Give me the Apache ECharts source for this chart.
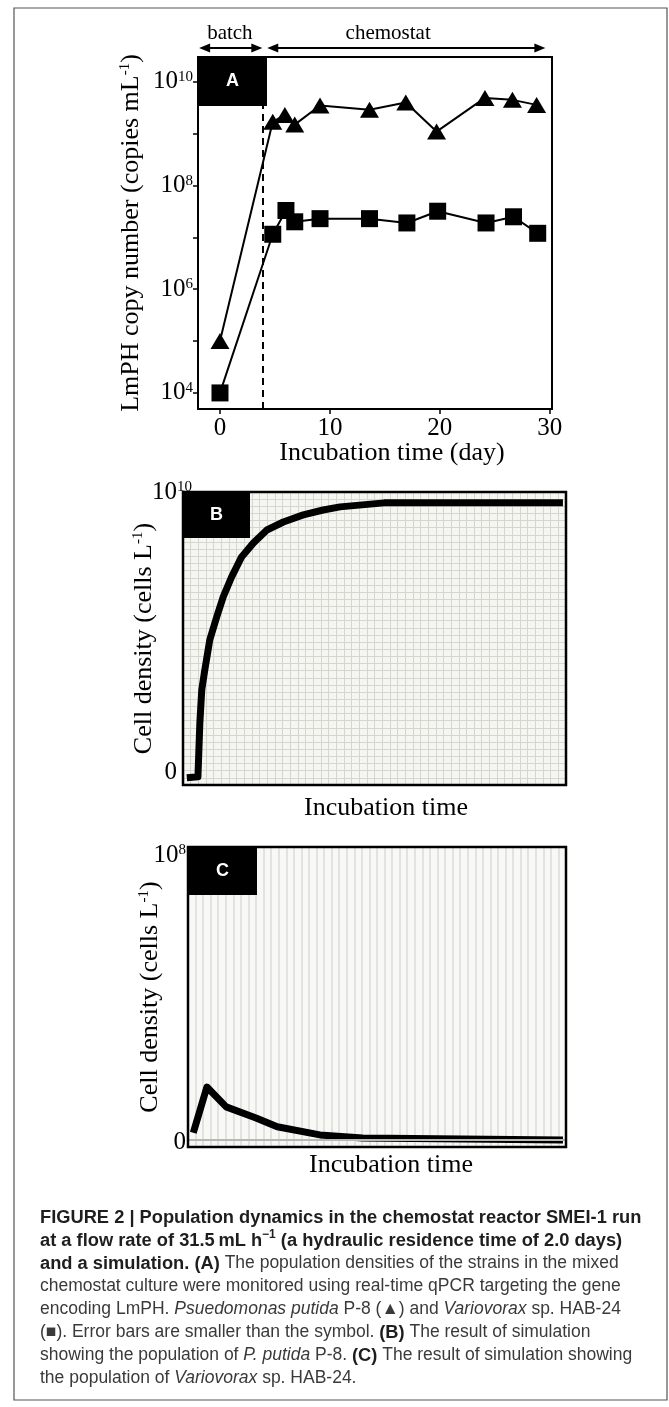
<!DOCTYPE html>
<html>
<head>
<meta charset="utf-8">
<script src="https://cdn.jsdelivr.net/npm/echarts@6/dist/echarts.min.js"></script>
<style>
html, body { margin: 0; padding: 0; background: #fff; }
#main { width: 669px; height: 1407px; }
</style>
</head>
<body>
<div id="main"></div>
<script>
// panel A: qPCR copy numbers (copies per mL) against incubation day
var putidaDays = [0, 4.8, 5.9, 6.8, 9.1, 13.6, 16.9, 19.7, 24.1, 26.6, 28.8];
var putidaCopies = [1e5, 1.7e9, 2.3e9, 1.5e9, 3.5e9, 2.9e9, 4.0e9, 1.1e9, 4.9e9, 4.5e9, 3.6e9];
var varioDays = [0, 4.8, 6.0, 6.8, 9.1, 13.6, 17.0, 19.8, 24.2, 26.7, 28.9];
var varioCopies = [1e4, 1.15e7, 3.3e7, 2.0e7, 2.3e7, 2.3e7, 1.9e7, 3.2e7, 1.9e7, 2.5e7, 1.2e7];
var dayTicks = [0, 10, 20, 30];
var decadeLabels = [4, 6, 8, 10];
var decadeTicks = [4, 5, 6, 7, 8, 9, 10];
var logRange = [3.69, 10.48];
var switchDay = 3.9;

// panel B: simulated P. putida (cells per L), time in arbitrary units
var simTimeB = [1.0, 3.9, 4.4, 4.9, 5.7, 7.0, 8.8, 10.5, 12.7, 15.3, 18.4, 21.9, 26.2, 31.4, 36.6, 41.0, 52.5, 99.2];
var putidaSim = [0, 0.035e9, 1.92e9, 3.08e9, 3.78e9, 4.83e9, 5.63e9, 6.33e9, 7.03e9, 7.73e9, 8.22e9, 8.67e9, 8.95e9, 9.20e9, 9.37e9, 9.48e9, 9.62e9, 9.62e9];

// panel C: simulated Variovorax (cells per L)
var simTimeC = [1.4, 5.0, 10.1, 18.0, 23.6, 34.9, 46.2, 99.2];
var varioSim = [2.5e6, 1.86e7, 1.16e7, 7.7e6, 4.6e6, 1.75e6, 0.7e6, 0];

var annotations = [
    { text: 'batch', from: -1.9, to: 3.85, at: 0.9 },
    { text: 'chemostat', from: 4.3, to: 29.6, at: 15.3 }
];

// panel boxes: letter, left, top, width, height, letter-box width, letter-box height, border width
var panels = [
    ['A', 198, 57, 354, 352, 69, 49, 2],
    ['B', 183, 492, 383, 293, 67, 46, 2.5],
    ['C', 188, 847, 378, 300, 69, 48, 2.5]
];
var panelFill = ['#fff', '#f5f5f2', '#f8f8f6'];

var serif = '"Liberation Serif", "Times New Roman", serif';
var sans = '"Liberation Sans", Arial, sans-serif';

function pairs(xs, ys) {
    return xs.map(function (x, i) { return [x, ys[i]]; });
}

var supRich = {
    b: { fontFamily: serif, fontSize: 25, color: '#000' },
    s: { fontFamily: serif, fontSize: 15, color: '#000', verticalAlign: 'top' },
    z: { fontFamily: serif, fontSize: 25, color: '#000', padding: [0, 15, 10, 0] },
    d: { fontFamily: serif, fontSize: 25, color: '#000', padding: [6, 0, 0, 0] }
};
var nameStyle = {
    fontFamily: serif, fontSize: 26, color: '#000',
    rich: { s: { fontFamily: serif, fontSize: 15, color: '#000', verticalAlign: 'top' } }
};
var gridLine = { show: true, showMinLine: false, showMaxLine: false };

var chart = echarts.init(document.getElementById('main'));

var option = {
    animation: false,
    backgroundColor: '#fff',
    grid: panels.map(function (p, i) {
        return { left: p[1], top: p[2], width: p[3], height: p[4], show: true, borderWidth: 0, backgroundColor: panelFill[i] };
    }),
    xAxis: [
        {
            gridIndex: 0, type: 'value', min: -2, max: 30.2,
            axisLine: { show: true, lineStyle: { color: '#000', width: 2 } },
            axisTick: { show: true, customValues: dayTicks, length: 5, lineStyle: { color: '#000', width: 1.5 } },
            axisLabel: { customValues: dayTicks, margin: 7, fontFamily: serif, fontSize: 25, color: '#000' },
            splitLine: { show: false },
            name: 'Incubation time (day)', nameLocation: 'middle', nameGap: 31, nameMoveOverlap: false,
            nameTextStyle: { fontFamily: serif, fontSize: 26, color: '#000', padding: [0, 0, 0, 34] }
        },
        {
            gridIndex: 1, type: 'value', min: 0, max: 100, interval: 2,
            axisLine: { show: false }, axisTick: { show: false }, axisLabel: { show: false },
            splitLine: Object.assign({ lineStyle: { color: '#d6d6cf', width: 1 } }, gridLine),
            name: 'Incubation time', nameLocation: 'middle', nameGap: 10, nameMoveOverlap: false,
            nameTextStyle: { fontFamily: serif, fontSize: 26, color: '#000', padding: [0, 0, 0, 23] }
        },
        {
            gridIndex: 2, type: 'value', min: 0, max: 100, interval: 2,
            axisLine: { show: false }, axisTick: { show: false }, axisLabel: { show: false },
            splitLine: Object.assign({ lineStyle: { color: '#e3e3de', width: 2 } }, gridLine),
            name: 'Incubation time', nameLocation: 'middle', nameGap: 5, nameMoveOverlap: false,
            nameTextStyle: { fontFamily: serif, fontSize: 26, color: '#000', padding: [0, 0, 0, 28] }
        }
    ],
    yAxis: [
        // log scale that places the measurements
        {
            gridIndex: 0, type: 'log', show: false, position: 'left',
            min: Math.pow(10, logRange[0]), max: Math.pow(10, logRange[1])
        },
        // decade axis drawn alongside it for ticks and labels
        {
            gridIndex: 0, type: 'value', position: 'left', min: logRange[0], max: logRange[1],
            axisLine: { show: true, lineStyle: { color: '#000', width: 2 } },
            axisTick: { show: true, customValues: decadeTicks, length: 5, lineStyle: { color: '#000', width: 1.5 } },
            axisLabel: {
                customValues: decadeLabels, margin: 5, rich: supRich,
                formatter: function (v) { return '{b|10}{s|' + v + '}'; }
            },
            splitLine: { show: false },
            name: 'LmPH copy number (copies mL{s|-1})', nameLocation: 'middle', nameGap: 54, nameRotate: 90,
            nameMoveOverlap: false, nameTextStyle: nameStyle
        },
        {
            gridIndex: 1, type: 'value', min: -2.5e8, max: 1e10, interval: 2.5e8,
            axisLine: { show: false }, axisTick: { show: false },
            axisLabel: {
                margin: -9, rich: supRich,
                formatter: function (v) {
                    if (Math.abs(v) < 1) return '{z|0}';
                    if (v > 9.9e9) return '{b|10}{s|10}';
                    return '';
                }
            },
            splitLine: Object.assign({ lineStyle: { color: '#d6d6cf', width: 1 } }, gridLine),
            name: 'Cell density (cells L{s|-1})', nameLocation: 'middle', nameGap: 26, nameRotate: 90,
            nameMoveOverlap: false, nameTextStyle: nameStyle
        },
        {
            gridIndex: 2, type: 'value', min: -2.5e6, max: 1.03e8, interval: 2.5e6,
            axisLine: { show: false }, axisTick: { show: false },
            axisLabel: {
                margin: 2, rich: supRich,
                formatter: function (v) {
                    if (Math.abs(v) < 1) return '{d|0}';
                    if (Math.abs(v - 1e8) < 1) return '{b|10}{s|8}';
                    return '';
                }
            },
            splitLine: { show: false },
            name: 'Cell density (cells L{s|-1})', nameLocation: 'middle', nameGap: 25, nameRotate: 90,
            nameMoveOverlap: false, nameTextStyle: nameStyle
        }
    ],
    series: [
        {
            name: 'P. putida P-8', type: 'line', xAxisIndex: 0, yAxisIndex: 0,
            data: pairs(putidaDays, putidaCopies),
            symbol: 'triangle', symbolSize: [19, 16],
            itemStyle: { color: '#000' }, lineStyle: { color: '#000', width: 2 },
            markLine: {
                silent: true, symbol: 'none', label: { show: false },
                lineStyle: { color: '#000', width: 2, type: [7, 5] },
                data: [{ xAxis: switchDay }]
            }
        },
        {
            name: 'Variovorax sp. HAB-24', type: 'line', xAxisIndex: 0, yAxisIndex: 0,
            data: pairs(varioDays, varioCopies),
            symbol: 'rect', symbolSize: 17,
            itemStyle: { color: '#000' }, lineStyle: { color: '#000', width: 2 }
        },
        {
            name: 'P. putida simulation', type: 'line', xAxisIndex: 1, yAxisIndex: 2,
            data: pairs(simTimeB, putidaSim), showSymbol: false,
            lineStyle: { color: '#000', width: 7, join: 'round' }
        },
        {
            name: 'Variovorax simulation', type: 'line', xAxisIndex: 2, yAxisIndex: 3,
            data: pairs(simTimeC, varioSim), showSymbol: false,
            lineStyle: { color: '#000', width: 7, join: 'round' },
            markLine: {
                silent: true, symbol: 'none', label: { show: false },
                lineStyle: { color: '#b8b8b4', width: 2, type: 'solid' },
                data: [{ yAxis: 0 }]
            }
        }
    ]
};

chart.setOption(option);

// decorations: panel frames and letters, phase arrows, figure frame and caption
function xPix(d) { return chart.convertToPixel({ xAxisIndex: 0 }, d); }

var graphics = [];
graphics.push({
    type: 'rect', z: 1, silent: true,
    shape: { x: 14, y: 8, width: 653, height: 1392 },
    style: { fill: 'none', stroke: '#555', lineWidth: 1.2 }
});

panels.forEach(function (p) {
    graphics.push({ type: 'rect', z: 99, silent: true, shape: { x: p[1], y: p[2], width: p[3], height: p[4] }, style: { fill: 'none', stroke: '#000', lineWidth: p[7] } });
    graphics.push({ type: 'rect', z: 100, shape: { x: p[1], y: p[2], width: p[5], height: p[6] }, style: { fill: '#000' } });
    graphics.push({
        type: 'text', z: 101, x: p[1] + p[5] / 2, y: p[2] + p[6] / 2,
        style: { text: p[0], fill: '#fff', fontFamily: sans, fontWeight: 'bold', fontSize: 18, align: 'center', verticalAlign: 'middle' }
    });
});

var arrowY = 48;
annotations.forEach(function (a) {
    var x0 = xPix(a.from), x1 = xPix(a.to);
    graphics.push({ type: 'line', z: 100, shape: { x1: x0 + 6, y1: arrowY, x2: x1 - 6, y2: arrowY }, style: { stroke: '#000', lineWidth: 2 } });
    graphics.push({ type: 'polygon', z: 100, shape: { points: [[x0, arrowY], [x0 + 11, arrowY - 4.5], [x0 + 11, arrowY + 4.5]] }, style: { fill: '#000' } });
    graphics.push({ type: 'polygon', z: 100, shape: { points: [[x1, arrowY], [x1 - 11, arrowY - 4.5], [x1 - 11, arrowY + 4.5]] }, style: { fill: '#000' } });
    graphics.push({
        type: 'text', z: 100, x: xPix(a.at), y: 33,
        style: { text: a.text, fill: '#000', fontFamily: serif, fontSize: 21, align: 'center', verticalAlign: 'middle' }
    });
});

var captionLines = [
    '{b|FIGURE 2 | Population dynamics in the chemostat reactor SMEI-1 run}',
    '{b|at a flow rate of 31.5\u2009mL h}{bs|\u22121}{b| (a hydraulic residence time of 2.0 days)}',
    '{b|and a simulation. (A)} The population densities of the strains in the mixed',
    'chemostat culture were monitored using real-time qPCR targeting the gene',
    'encoding LmPH. {i|Psuedomonas putida} P-8 (\u25B2) and {i|Variovorax} sp. HAB-24',
    '(\u25A0). Error bars are smaller than the symbol. {b|(B)} The result of simulation',
    'showing the population of {i|P. putida} P-8. {b|(C)} The result of simulation showing',
    'the population of {i|Variovorax} sp. HAB-24.'
];
graphics.push({
    type: 'text', z: 100, x: 40, y: 1206,
    style: {
        text: captionLines.join('\n'),
        fill: '#3a3a3a', fontFamily: sans, fontSize: 17.5, lineHeight: 23,
        rich: {
            b: { fontFamily: sans, fontSize: 18.3, fontWeight: 'bold', fill: '#1e1e1e', lineHeight: 23 },
            bs: { fontFamily: sans, fontSize: 12, fontWeight: 'bold', fill: '#1e1e1e', lineHeight: 23, verticalAlign: 'top' },
            i: { fontFamily: sans, fontSize: 17.5, fontStyle: 'italic', fill: '#3a3a3a', lineHeight: 23 }
        }
    }
});

chart.setOption({ graphic: graphics });
</script>
</body>
</html>
